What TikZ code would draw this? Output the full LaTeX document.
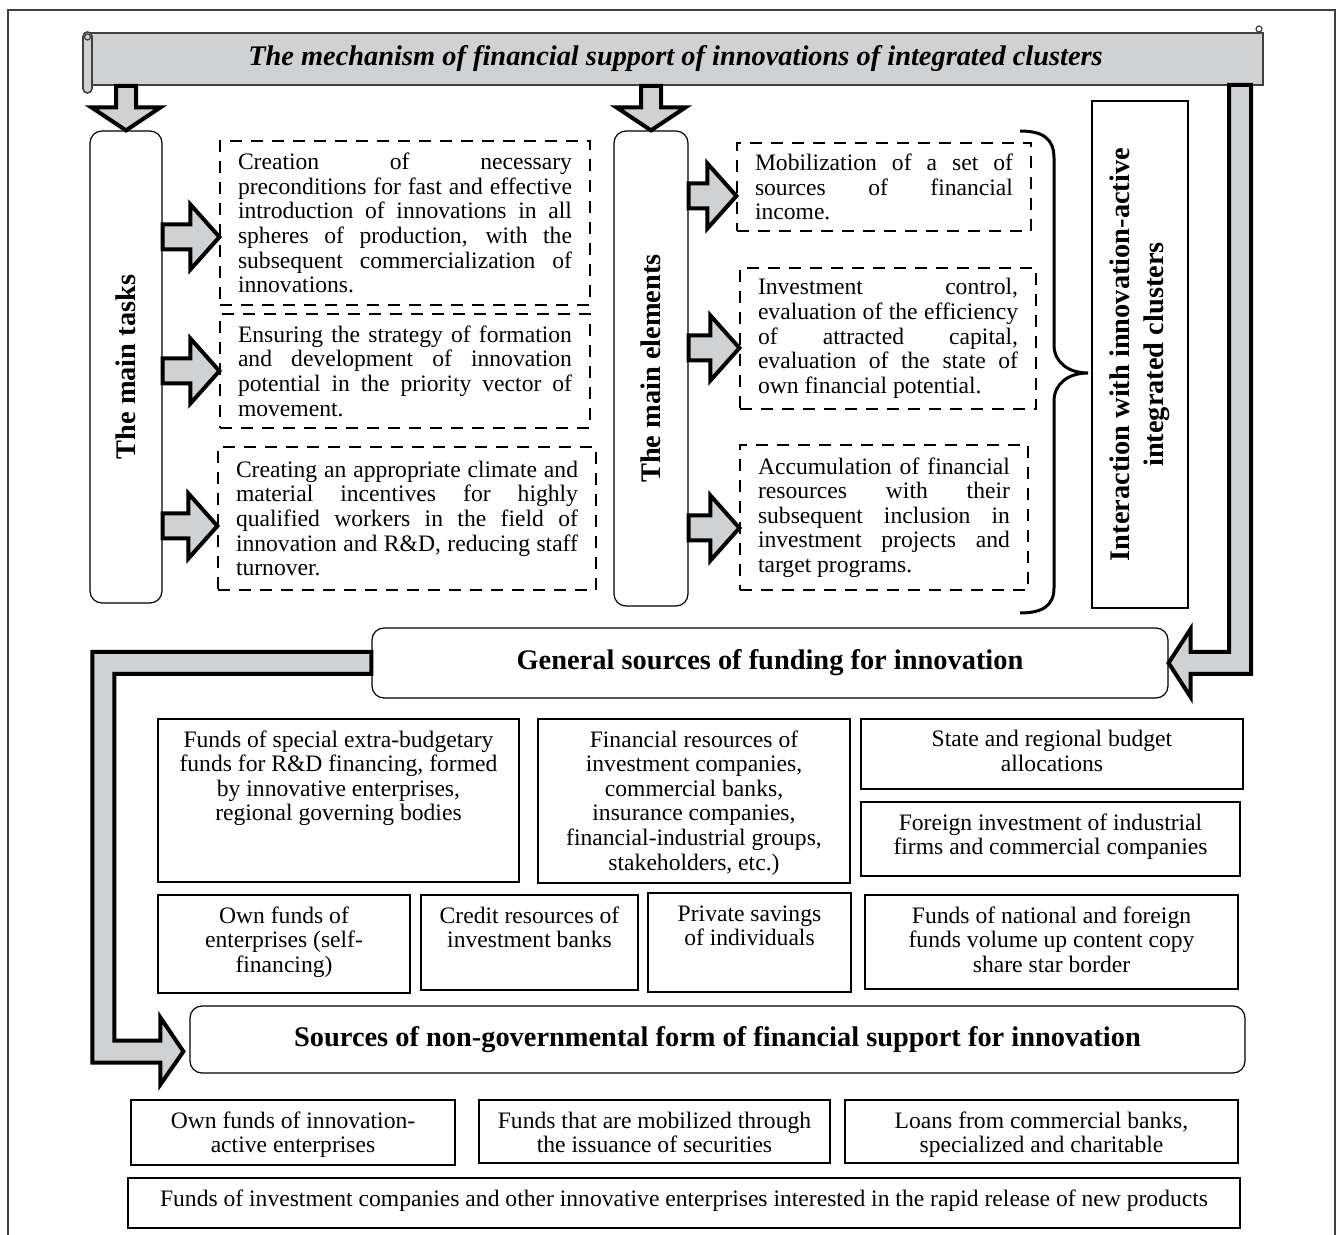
\documentclass[tikz,border=0pt]{standalone}
\usepackage{fontspec}
\usepackage{graphicx}
\setmainfont{Liberation Serif}
\definecolor{arrowgray}{RGB}{208,209,211}
\definecolor{framegray}{RGB}{64,64,64}
\tolerance=10000 \hbadness=10000 \vbadness=10000
\newcommand\headfont{\fontsize{14.2}{17}\selectfont\bfseries}
\newcommand\srcnode[5]{\node(#1)[srcbox] at (#2) {\parbox[c][#3][t]{#4}{\centering\rule{0pt}{14pt}#5}};}
\newcommand\pushdown[2]{\path (#2.north) coordinate (tip) (#1.south -| tip) coordinate (tail);
  \draw[blockarr] ([xshift=-5pt]tail) -- ([shift={(-5pt,11.5pt)}]tip) -- ([shift={(-17.25pt,11.5pt)}]tip) -- (tip)
    -- ([shift={(17.25pt,11.5pt)}]tip) -- ([shift={(5pt,11.5pt)}]tip) -- ([xshift=5pt]tail) -- cycle;}
\newcommand\pushright[3]{\path ([yshift=#3]#2.west) coordinate (tip) (#1.east |- tip) coordinate (tail);
  \draw[blockarr] ([yshift=6.25pt]tail) -- ([shift={(-14.5pt,6.25pt)}]tip) -- ([shift={(-14.5pt,16.25pt)}]tip) -- (tip)
    -- ([shift={(-14.5pt,-16.25pt)}]tip) -- ([shift={(-14.5pt,-6.25pt)}]tip) -- ([yshift=-6.25pt]tail) -- cycle;}

\begin{document}
\begin{tikzpicture}[x=0.5pt,y=-0.5pt,font=\fontsize{11.8}{12.3}\selectfont,
    dashbox/.style={draw,dash pattern=on 6pt off 4.5pt,line width=0.6pt,align=justify,inner xsep=9pt,inner ysep=0pt},
    srcbox/.style={draw,line width=0.6pt,inner sep=0pt},
    headbox/.style={draw,rounded corners=6pt,line width=0.6pt,font=\headfont,inner sep=0pt},
    blockarr/.style={draw=black,fill=arrowgray,line width=2pt,line join=miter}]
    \useasboundingbox (0,0) rectangle (1340,1235);
    \draw[framegray,line width=1.2pt] (8,1235) -- (8,10) -- (1335,10) -- (1335,1235);

    % title scroll
    \node(banner)[draw=framegray,fill=arrowgray,line width=0.8pt,minimum width=587.5pt,minimum height=26pt,inner sep=0pt,
        font=\fontsize{14.2}{17}\selectfont\bfseries\itshape] at (675.5,59) {The mechanism of financial support of innovations of integrated clusters};
    \draw[framegray,fill=arrowgray,line width=0.8pt,rounded corners=2.2pt] (83,32) rectangle (92,93);
    \draw[framegray,line width=0.6pt] (87.5,37) circle (1.5pt);
    \draw[framegray,line width=0.6pt] (1259,29) circle (1.5pt);

    \node(mt)[headbox,minimum width=36pt,minimum height=236pt] at (126,367) {\rotatebox{90}{The main tasks}};
    \node(me)[headbox,minimum width=37pt,minimum height=237.5pt] at (651,368.5) {\rotatebox{90}{The main elements}};
    \node(ia)[draw,line width=0.6pt,font=\headfont,minimum width=48pt,minimum height=253.5pt,inner sep=0pt] at (1140,354.5)
        {\rotatebox{90}{\parbox{250pt}{\centering Interaction with innovation-active\\integrated clusters}}};

    \node(t1)[dashbox,text width=167pt,minimum height=82pt] at (405,223) {Creation of necessary\linebreak preconditions for fast and effective\linebreak introduction of innovations in all\linebreak spheres of production, with the\linebreak subsequent commercialization of\linebreak innovations.};
    \node(t2)[dashbox,text width=167pt,minimum height=57pt] at (405,371) {Ensuring the strategy of formation\linebreak and development of innovation\linebreak potential in the priority vector of\linebreak movement.};
    \node(t3)[dashbox,text width=171pt,minimum height=71.5pt] at (407,518.5) {Creating an appropriate climate and\linebreak material incentives for highly\linebreak qualified workers in the field of\linebreak innovation and R\&D, reducing staff\linebreak turnover.};
    \node(e1)[dashbox,text width=129pt,minimum height=44pt] at (884,187) {Mobilization of a set of\linebreak sources of financial\linebreak income.};
    \node(e2)[dashbox,text width=130pt,minimum height=70.5pt] at (888,338.5) {Investment control,\linebreak evaluation of the efficiency\linebreak of attracted capital,\linebreak evaluation of the state of\linebreak own financial potential.};
    \node(e3)[dashbox,text width=126pt,minimum height=72.5pt] at (884,517.5) {Accumulation of financial\linebreak resources with their\linebreak subsequent inclusion in\linebreak investment projects and\linebreak target programs.};

    \pushdown{banner}{mt}
    \pushdown{banner}{me}
    \pushright{mt}{t1}{-7pt}
    \pushright{mt}{t2}{0pt}
    \pushright{mt}{t3}{-3.75pt}
    \pushright{me}{e1}{-4.5pt}
    \pushright{me}{e2}{-4.75pt}
    \pushright{me}{e3}{-5.25pt}

    \draw[line width=1.5pt] (1020,131) .. controls (1042,131) and (1054,138) .. (1054,158) -- (1054,345)
        .. controls (1054,362) and (1068,373) .. (1088,373) .. controls (1068,373) and (1054,384) .. (1054,401)
        -- (1054,588) .. controls (1054,606) and (1042,613) .. (1020,613);

    \node(gs)[headbox,minimum width=398pt,minimum height=35pt] at (770,663) {General sources of funding for innovation};
    \node(ng)[headbox,minimum width=527.5pt,minimum height=33.5pt] at (717.5,1039.5) {Sources of non-governmental form of financial support for innovation};

    \coordinate (rtop) at (1240,85);
    \draw[blockarr] ([xshift=-5.5pt]rtop) -- ++(22,0) |- ([shift={(22,11)}]gs.east) -- ++(0,23) -- (gs.east)
        -- ++(22,-34) -- ++(0,23) -| ([xshift=-5.5pt]rtop) -- cycle;
    \coordinate (ltip) at ([shift={(-6,12)}]ng.west);
    \draw[blockarr] ([yshift=5.5pt]gs.west) -- ++(-279,0) |- ([shift={(-23,11)}]ltip) -- ++(0,22) -- (ltip)
        -- ++(-23,-34) -- ++(0,23) -| ([shift={(-257,11)}]gs.west) -- ([yshift=-5.5pt]gs.west) -- cycle;

    \srcnode{s1}{338.5,800.5}{81.5pt}{180.5pt}{Funds of special extra-budgetary\\funds for R\&D financing, formed\\by innovative enterprises,\\regional governing bodies}
    \srcnode{s2}{694,801}{82pt}{156pt}{Financial resources of\\investment companies,\\commercial banks,\\insurance companies,\\financial-industrial groups,\\stakeholders, etc.)}
    \srcnode{s3}{1052,754}{35pt}{191pt}{State and regional budget\\allocations}
    \srcnode{s4}{1050.5,839}{37pt}{189.5pt}{Foreign investment of industrial\\firms and commercial companies}
    \srcnode{s5}{284,944}{49pt}{126pt}{Own funds of\\enterprises (self-\\financing)}
    \srcnode{s6}{529.5,942.5}{47.5pt}{108.5pt}{Credit resources of\\investment banks}
    \srcnode{s7}{749.5,942.5}{49.5pt}{101.5pt}{Private savings\\of individuals}
    \srcnode{s8}{1051.5,942}{47pt}{186.5pt}{Funds of national and foreign\\funds volume up content copy\\share star border}
    \srcnode{b1}{293,1132.5}{32.5pt}{162pt}{Own funds of innovation-\\active enterprises}
    \srcnode{b2}{654.5,1131.5}{31.5pt}{175.5pt}{Funds that are mobilized through\\the issuance of securities}
    \srcnode{b3}{1041.5,1131.5}{31.5pt}{196.5pt}{Loans from commercial banks,\\specialized and charitable}
    \srcnode{b4}{684,1203}{25pt}{556pt}{Funds of investment companies and other innovative enterprises interested in the rapid release of new products}
\end{tikzpicture}
\end{document}
